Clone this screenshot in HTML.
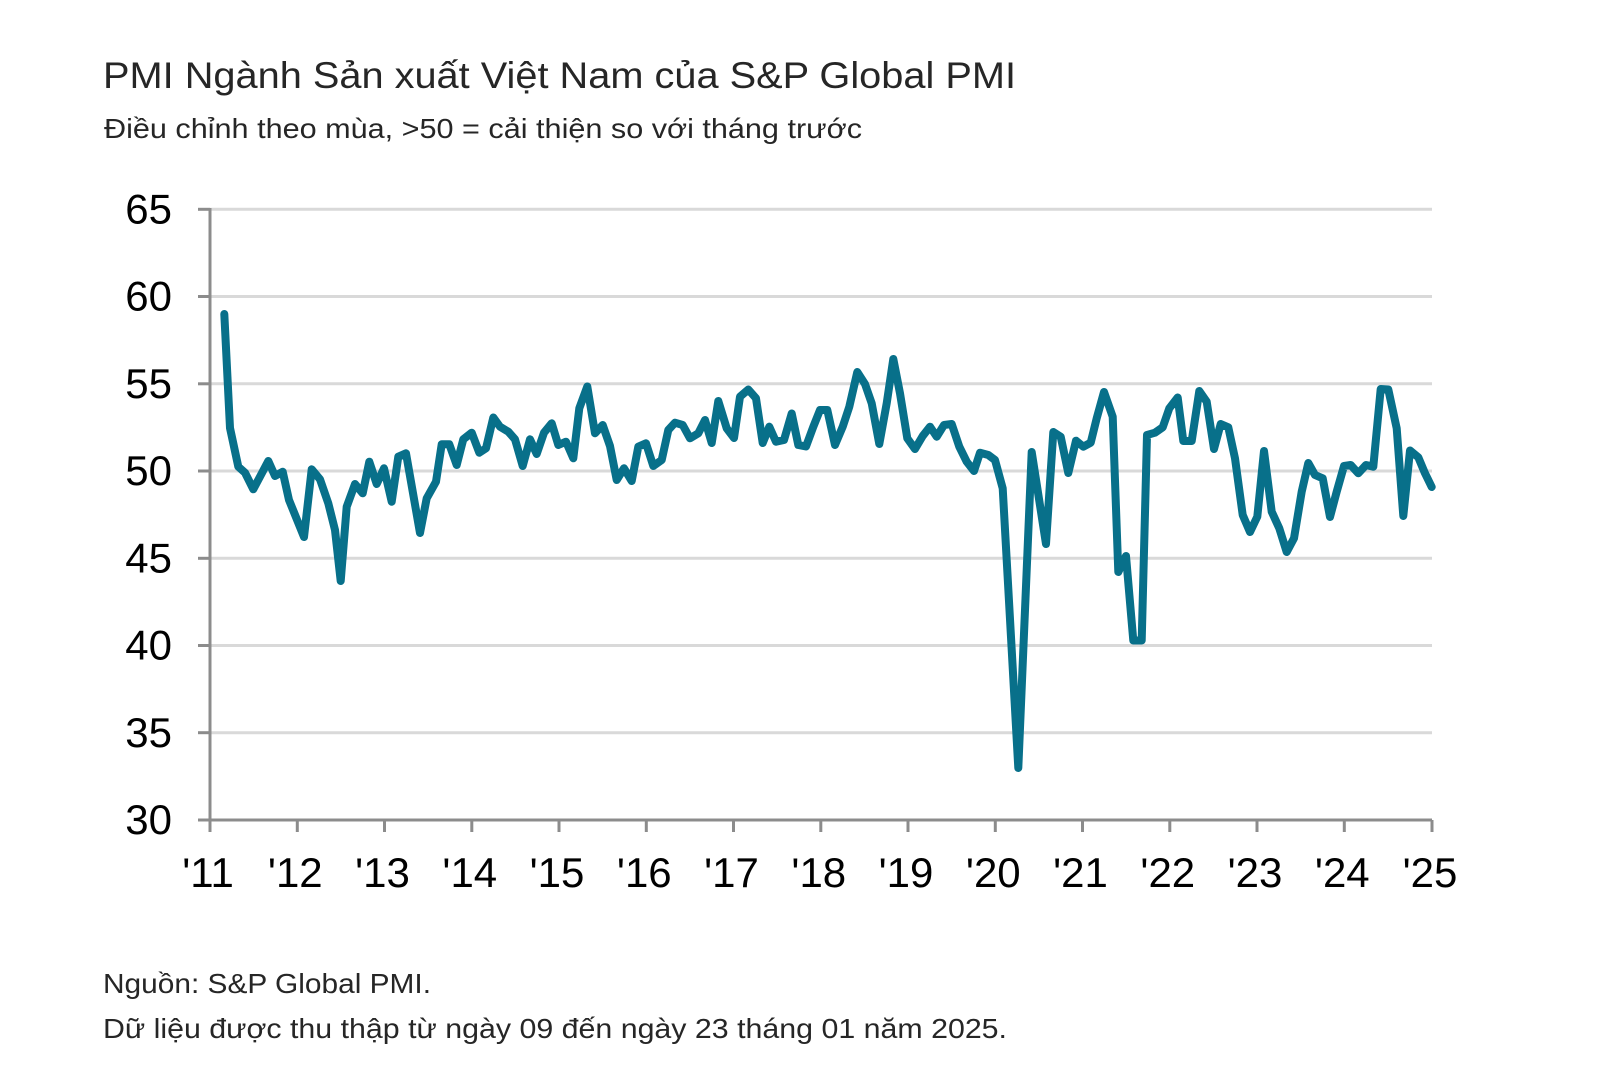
<!DOCTYPE html>
<html>
<head>
<meta charset="utf-8">
<style>
  html, body { margin: 0; padding: 0; background: #ffffff; }
  svg { display: block; }
</style>
</head>
<body>
<svg width="1600" height="1081" viewBox="0 0 1600 1081" xmlns="http://www.w3.org/2000/svg">
  <rect x="0" y="0" width="1600" height="1081" fill="#ffffff"/>

  <!-- Title & subtitle -->
  <text x="103" y="88" font-family="Liberation Sans, DejaVu Sans, sans-serif" font-size="37" fill="#262626" textLength="913" lengthAdjust="spacingAndGlyphs">PMI Ngành Sản xuất Việt Nam của S&amp;P Global PMI</text>
  <text x="104" y="138" font-family="Liberation Sans, DejaVu Sans, sans-serif" font-size="28" fill="#262626" textLength="758" lengthAdjust="spacingAndGlyphs">Điều chỉnh theo mùa, &gt;50 = cải thiện so với tháng trước</text>

  <!-- Gridlines -->
  <g stroke="#d9d9d9" stroke-width="3">
    <line x1="210" y1="209.3" x2="1432" y2="209.3"/>
    <line x1="210" y1="296.5" x2="1432" y2="296.5"/>
    <line x1="210" y1="383.8" x2="1432" y2="383.8"/>
    <line x1="210" y1="471" x2="1432" y2="471"/>
    <line x1="210" y1="558.3" x2="1432" y2="558.3"/>
    <line x1="210" y1="645.5" x2="1432" y2="645.5"/>
    <line x1="210" y1="732.7" x2="1432" y2="732.7"/>
  </g>

  <!-- Axes -->
  <g stroke="#8c8c8c" stroke-width="3" fill="none">
    <line x1="210" y1="208" x2="210" y2="832"/>
    <line x1="198" y1="820" x2="1432" y2="820"/>
    <line x1="1432" y1="820" x2="1432" y2="832"/>
    <!-- y ticks -->
    <line x1="198" y1="209.3" x2="210" y2="209.3"/>
    <line x1="198" y1="296.5" x2="210" y2="296.5"/>
    <line x1="198" y1="383.8" x2="210" y2="383.8"/>
    <line x1="198" y1="471" x2="210" y2="471"/>
    <line x1="198" y1="558.3" x2="210" y2="558.3"/>
    <line x1="198" y1="645.5" x2="210" y2="645.5"/>
    <line x1="198" y1="732.7" x2="210" y2="732.7"/>
    <!-- x ticks -->
    <line x1="297.3" y1="820" x2="297.3" y2="832"/>
    <line x1="384.5" y1="820" x2="384.5" y2="832"/>
    <line x1="471.8" y1="820" x2="471.8" y2="832"/>
    <line x1="559" y1="820" x2="559" y2="832"/>
    <line x1="646.3" y1="820" x2="646.3" y2="832"/>
    <line x1="733.5" y1="820" x2="733.5" y2="832"/>
    <line x1="820.8" y1="820" x2="820.8" y2="832"/>
    <line x1="908" y1="820" x2="908" y2="832"/>
    <line x1="995.3" y1="820" x2="995.3" y2="832"/>
    <line x1="1082.5" y1="820" x2="1082.5" y2="832"/>
    <line x1="1169.8" y1="820" x2="1169.8" y2="832"/>
    <line x1="1257" y1="820" x2="1257" y2="832"/>
    <line x1="1344.3" y1="820" x2="1344.3" y2="832"/>
  </g>

  <!-- Y labels -->
  <g font-family="Liberation Sans, Arial, sans-serif" font-size="42" fill="#000000" text-anchor="end">
    <text x="172" y="223.5">65</text>
    <text x="172" y="310.7">60</text>
    <text x="172" y="398">55</text>
    <text x="172" y="485.2">50</text>
    <text x="172" y="572.5">45</text>
    <text x="172" y="659.7">40</text>
    <text x="172" y="746.9">35</text>
    <text x="172" y="834.2">30</text>
  </g>

  <!-- X labels -->
  <g font-family="Liberation Sans, Arial, sans-serif" font-size="42" fill="#000000" text-anchor="middle">
    <text x="208" y="887">'11</text>
    <text x="295.3" y="887">'12</text>
    <text x="382.5" y="887">'13</text>
    <text x="469.8" y="887">'14</text>
    <text x="557" y="887">'15</text>
    <text x="644.3" y="887">'16</text>
    <text x="731.5" y="887">'17</text>
    <text x="818.8" y="887">'18</text>
    <text x="906" y="887">'19</text>
    <text x="993.3" y="887">'20</text>
    <text x="1080.5" y="887">'21</text>
    <text x="1167.8" y="887">'22</text>
    <text x="1255" y="887">'23</text>
    <text x="1342.3" y="887">'24</text>
    <text x="1430" y="887">'25</text>
  </g>

  <!-- Data line -->
  <polyline fill="none" stroke="#08708a" stroke-width="8" stroke-linejoin="round" stroke-linecap="round" points="
224.3,314 230,428 238.3,466.7 245,472.7 253.3,489.3 268.3,461 275,476 282.7,471.7 289,500 304,537
311.7,469.3 320,479.3 328.3,503.3 335,530 340.7,581 346.7,506.7 355,484 362.7,493.3 369.3,461.7 376.7,484
384,468.3 391.7,501.7 398.3,456.7 406,453.3 420,533 426.7,498.3 436,481.7 441.7,444.3 449.3,444.3 456.7,465
463.3,439.3 471.7,432.7 479.3,452.7 486,448.3 493.3,417.5 500,426.7 508.3,431.7 515,439.3 522.7,466 530,439.3
536.7,454 544,432.7 551.7,423.3 558.3,445 566,441.7 573.3,458.3 579.3,408.3 587.3,386.5 595,433.3 602.7,425
610,446 616.7,480 624,468.3 631.7,481 638.3,446.7 646,443.3 653.3,466 661.7,460 668.3,430 675,422.7
682.7,425 690,438.3 698.3,433.3 705,420 711.7,443 718.3,401 726.7,428.3 734,438 740,396.7 748.3,389.5
756,398.3 762.7,443 769.3,426.7 776,441.7 784,440 791.7,413.5 798.3,445 806,446.5 813.3,426.7 820,410
827.3,410 835,445 842.7,426.7 849.3,406.7 857.3,372 865,384 871.7,403.3 879.3,444 886.7,403.3 893.3,359
900,393.3 907.3,438.3 915,449 922.7,436 930,426.7 936.7,436.7 944,425 951.7,424 959.3,446.7 966.7,461.7
974,471 980,452.7 988.3,455 995,460 1002.7,488.3 1018.3,768 1031.7,452 1046,544 1053.3,432 1060.7,436.7
1068.3,473 1076,440.7 1083.3,446.7 1090.7,442.7 1096.7,418.3 1104,392 1112.7,416.7 1118.3,572 1126,556 1133.3,640.5
1141.7,640.5 1147,435 1155,432.7 1162.7,427.3 1169.3,408.3 1177.7,397.5 1183.3,441 1191.7,441 1199.3,391 1206.7,401.7
1214,449 1220.7,424 1228.3,427.3 1235,458.3 1242.7,515 1250,532 1257.3,516.7 1264,451 1271.7,511.7 1279.3,528.3
1286.7,552 1294,538.3 1301.7,491.7 1308.3,463 1315,475 1322.7,478.3 1330,517 1336.7,491.7 1344,466 1350.7,465
1358.3,473.3 1366,465 1373.3,466.7 1380.7,389 1388.3,389.5 1396.7,428.3 1403.3,516 1410,450.5 1418.3,457.3 1425,473.3
1431.7,487"/>

  <!-- Footer -->
  <text x="103" y="993" font-family="Liberation Sans, DejaVu Sans, sans-serif" font-size="28" fill="#262626" textLength="328" lengthAdjust="spacingAndGlyphs">Nguồn: S&amp;P Global PMI.</text>
  <text x="103" y="1038" font-family="Liberation Sans, DejaVu Sans, sans-serif" font-size="28" fill="#262626" textLength="904" lengthAdjust="spacingAndGlyphs">Dữ liệu được thu thập từ ngày 09 đến ngày 23 tháng 01 năm 2025.</text>
</svg>
</body>
</html>
